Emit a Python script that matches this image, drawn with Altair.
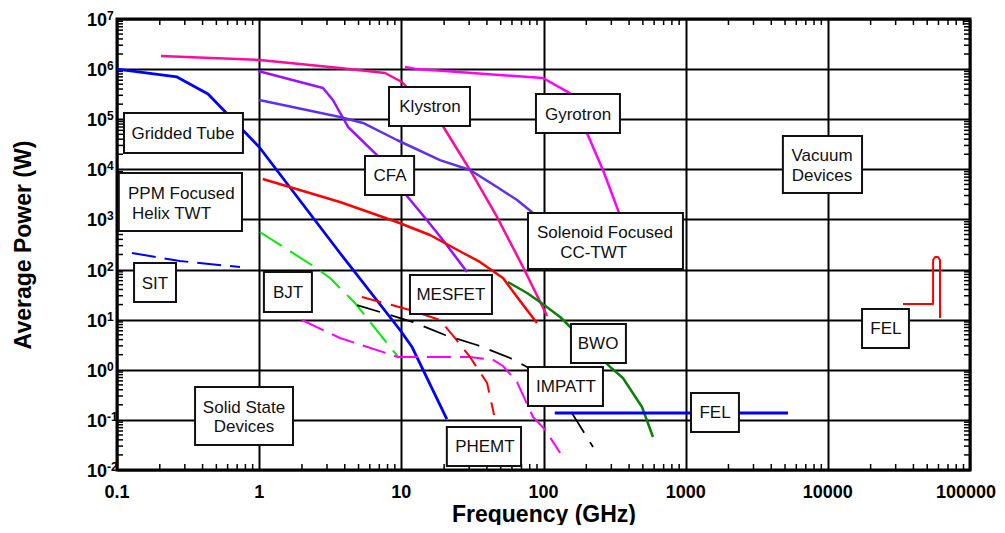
import altair as alt
import pandas as pd

# ---------------- data ----------------
gridded_f = [0.1, 0.264, 0.437, 1.0, 3.70, 9.79, 11.9, 20.9]
gridded_p = [1.0e6, 6.97e5, 3.18e5, 2.79e4, 214, 6.22, 2.84, 0.104]

klystron_f = [0.204, 1.01, 3.70, 7.68, 10.1, 19.6, 30.4, 47.1, 70.6, 106]
klystron_p = [1.83e6, 1.52e6, 1.05e6, 8.36e5, 5.53e5, 7.33e4, 9.70e3, 1.12e3, 123, 11.8]

gyrotron_f = [10.6, 12.9, 99.1, 153, 202, 262, 340]
gyrotron_p = [1.10e6, 1.00e6, 6.65e5, 3.33e5, 5.31e4, 9.7e3, 1.35e3]

cfa_f = [0.982, 2.81, 3.30, 4.22, 6.74, 11.1, 15.1, 19.6, 29.0]
cfa_p = [9.16e5, 4.20e5, 2.42e5, 7.0e4, 1.93e4, 2.81e3, 975, 389, 89.3]

cctwt_f = [1.0, 3.70, 5.37, 9.31, 18.7, 30.4, 47.1, 65.2, 84.4]
cctwt_p = [2.42e5, 1.11e5, 8.41e4, 3.85e4, 1.53e4, 9.70e3, 4.44e3, 2.44e3, 1.35e3]

ppm_f = [1.06, 3.70, 9.31, 15.9, 27.2, 35.7, 51.9, 65.2, 89.9]
ppm_p = [6.41e3, 2.23e3, 889, 489, 214, 142, 67.8, 28.3, 8.57]

bwo_f = [56.2, 76.6, 94.5, 131, 294, 362, 493, 589]
bwo_p = [56.5, 34.0, 22.5, 11.3, 1.14, 0.686, 0.181, 0.0455]

sit_f = [0.1275, 0.277, 0.733]
sit_p = [214, 148, 112]

bjt_f = [1.01, 2.47, 3.15, 4.72, 9.48]
bjt_p = [561, 112, 67.8, 21.5, 1.80]

phemt_f = [2.00, 3.70, 9.48, 30.4, 44.2, 51.9, 65.2, 84.4, 103, 131]
phemt_p = [9.84, 4.31, 1.80, 1.80, 1.57, 1.19, 0.569, 0.114, 0.0628, 0.0218]

mesfet_f = [5.28, 11.5, 18.7, 23.8, 30.4, 40.1, 44.9]
mesfet_p = [28.3, 15.6, 9.84, 4.31, 1.80, 0.544, 0.125]

impatt_f = [4.88, 12.1, 20.3, 34.0, 58.1, 76.6, 149, 223]
impatt_p = [19.6, 8.97, 4.94, 3.12, 1.72, 1.14, 0.181, 0.0288]

fel_low_f = [120, 5250]
fel_low_p = [0.137, 0.137]

fel_high_f = [3.38e4, 5.50e4, 5.50e4, 5.68e4, 5.96e4, 6.15e4, 6.15e4]
fel_high_p = [20.5, 20.5, 155, 178, 178, 155, 10.8]

# label boxes: left/right frequency, top/bottom power
box_f1 = [0.112, 0.103, 0.1318, 1.08, 0.354, 8.19, 88.5, 5.55, 77.8, 11.5, 156, 77.8, 20.9, 4830, 17400, 1090]
box_f2 = [0.769, 0.757, 0.260, 2.35, 1.73, 30.4, 345, 12.3, 957, 43.4, 380, 262, 69.5, 17400, 37200, 2370]
box_p1 = [1.33e5, 8.45e3, 135, 89.3, 0.453, 4.40e5, 3.18e5, 1.85e4, 1.35e3, 77.8, 8.18, 1.135, 0.0721, 4.62e4, 16.3, 0.344]
box_p2 = [2.12e4, 588, 22.5, 14.2, 0.0316, 7.33e4, 5.31e4, 3.08e3, 103, 13.0, 1.36, 0.189, 0.0120, 3.37e3, 2.72, 0.0573]

lbl_text = ["Gridded Tube", "PPM Focused", "Helix TWT", "SIT", "BJT", "Solid State", "Devices",
            "Klystron", "Gyrotron", "CFA", "Solenoid Focused", "CC-TWT", "MESFET", "BWO",
            "IMPATT", "PHEMT", "Vacuum", "Devices", "FEL", "FEL"]
lbl_f = [0.291, 0.1195, 0.1275, 0.185, 1.596, 0.782, 0.782, 15.9, 175, 8.32, 89.9, 131,
         22.3, 242, 144, 38.7, 9100, 9100, 25600, 1610]
lbl_p = [5.31e4, 3.37e3, 1.35e3, 54.0, 35.6, 0.181, 0.0755, 1.84e5, 1.27e5, 7.71e3, 561, 224,
         32.5, 3.42, 0.474, 0.0301, 1.93e4, 7.71e3, 6.82, 0.144]
lbl_align = ["center", "left", "left", "center", "center", "center", "center", "center", "center",
             "center", "left", "left", "center", "center", "center", "center", "center", "center",
             "center", "center"]

x_major = [0.1, 1, 10, 100, 1000, 10000, 100000]
x_major_text = ["0.1", "1", "10", "100", "1000", "10000", "100000"]
y_exp = [-2, -1, 0, 1, 2, 3, 4, 5, 6, 7]
y_major = [0.01, 0.1, 1, 10, 100, 1000, 1e4, 1e5, 1e6, 1e7]
x_minor = [m * d for d in [0.1, 1, 10, 100, 1000, 10000] for m in range(2, 10)]
y_minor = [m * d for d in [0.01, 0.1, 1, 10, 100, 1000, 1e4, 1e5, 1e6] for m in range(2, 10)]

# ---------------- chart ----------------
W, H = 853, 451
FONT = "Liberation Sans"
xs = alt.Scale(type="log", domain=[0.1, 100000], nice=False)
ys = alt.Scale(type="log", domain=[0.01, 1e7], nice=False)

xaxis = alt.Axis(values=x_major, grid=True, gridColor="black", gridWidth=2,
                 gridOpacity=1, ticks=False, tickSize=0, domain=False, labels=False,
                 title="Frequency (GHz)", titleFont=FONT, titleFontSize=23,
                 titleFontWeight="bold", titleColor="black", titleX=W / 2, titleY=44,
                 titleBaseline="middle", titleAlign="center")
yaxis = alt.Axis(values=y_major, grid=True, gridColor="black", gridWidth=2, gridOpacity=1,
                 ticks=False, tickSize=0, domain=False, labels=False,
                 title="Average Power (W)", titleFont=FONT, titleFontSize=23,
                 titleFontWeight="bold", titleColor="black", titleX=-94, titleY=H / 2,
                 titleAngle=270, titleBaseline="middle", titleAlign="center")

X = lambda f: alt.X(f, type="quantitative", scale=xs, axis=xaxis)
Y = lambda f: alt.Y(f, type="quantitative", scale=ys, axis=yaxis)

layers = []

# minor ticks pointing inward on all four sides
xm = pd.DataFrame({"f": x_minor})
ym = pd.DataFrame({"p": y_minor})
tick = dict(color="black", strokeWidth=1.5)
layers.append(alt.Chart(xm).mark_rule(**tick).encode(x=X("f"), y=alt.value(0), y2=alt.value(6)))
layers.append(alt.Chart(xm).mark_rule(**tick).encode(x=X("f"), y=alt.value(H), y2=alt.value(H - 6)))
layers.append(alt.Chart(ym).mark_rule(**tick).encode(y=Y("p"), x=alt.value(0), x2=alt.value(6)))
layers.append(alt.Chart(ym).mark_rule(**tick).encode(y=Y("p"), x=alt.value(W), x2=alt.value(W - 6)))

series = [
    ("Gridded Tube", gridded_f, gridded_p, "#0000FF", 2.8, None),
    ("Klystron", klystron_f, klystron_p, "#FF0A9C", 2.5, None),
    ("Gyrotron", gyrotron_f, gyrotron_p, "#FF00FF", 2.5, None),
    ("CFA", cfa_f, cfa_p, "#9A10FF", 2.5, None),
    ("CC-TWT", cctwt_f, cctwt_p, "#6030F0", 2.5, None),
    ("PPM Helix TWT", ppm_f, ppm_p, "#FF0000", 2.5, None),
    ("BWO", bwo_f, bwo_p, "#0A800A", 2.5, None),
    ("SIT", sit_f, sit_p, "#0000FF", 2, [24, 9]),
    ("BJT", bjt_f, bjt_p, "#00EE00", 2, [26, 10]),
    ("PHEMT", phemt_f, phemt_p, "#FF00FF", 2, [24, 9]),
    ("MESFET", mesfet_f, mesfet_p, "#FF0000", 2, [20, 10]),
    ("IMPATT", impatt_f, impatt_p, "#000000", 1.8, [24, 11]),
    ("FEL low", fel_low_f, fel_low_p, "#0000FF", 3, None),
    ("FEL high", fel_high_f, fel_high_p, "#FF0000", 2, None),
]
for name, fs, ps, col, sw, dash in series:
    df = pd.DataFrame({"f": fs, "p": ps, "i": range(len(fs)), "device": name})
    kw = dict(color=col, strokeWidth=sw, strokeCap="butt", strokeJoin="round")
    if dash:
        kw["strokeDash"] = dash
    layers.append(alt.Chart(df).mark_line(**kw).encode(x=X("f"), y=Y("p"), order="i:Q"))

# label boxes
boxes = pd.DataFrame({"f1": box_f1, "f2": box_f2, "p1": box_p1, "p2": box_p2})
layers.append(alt.Chart(boxes).mark_rect(fill="white", stroke="#111111", strokeWidth=2).encode(
    x=X("f1"), x2="f2", y=Y("p1"), y2="p2"))

labels = pd.DataFrame({"t": lbl_text, "f": lbl_f, "p": lbl_p, "a": lbl_align})
for al in ["center", "left"]:
    sub = labels[labels["a"] == al]
    layers.append(alt.Chart(sub).mark_text(font=FONT, fontSize=17, color="#111111", align=al,
                                          baseline="middle", dy=1).encode(
        x=X("f"), y=Y("p"), text="t:N"))

# y-axis labels as 10 with superscript exponent
yl = pd.DataFrame({"p": y_major, "e": [str(e) for e in y_exp], "b": ["10"] * len(y_exp)})
layers.append(alt.Chart(yl).mark_text(font=FONT, fontSize=18, fontWeight="bold", color="black",
                                      align="right", baseline="middle", dy=2).encode(
    y=Y("p"), x=alt.value(-10), text="b:N"))
layers.append(alt.Chart(yl).mark_text(font=FONT, fontSize=12, fontWeight="bold", color="black",
                                      align="left", baseline="middle", dy=-3).encode(
    y=Y("p"), x=alt.value(-10), text="e:N"))

# x-axis labels (the last one nudged so it stays inside the page)
xl = pd.DataFrame({"f": x_major, "t": x_major_text})
xtxt = dict(font=FONT, fontSize=18, fontWeight="bold", color="black", align="center",
            baseline="middle")
layers.append(alt.Chart(xl.iloc[:-1]).mark_text(**xtxt).encode(
    x=X("f"), y=alt.value(H + 23), text="t:N"))
layers.append(alt.Chart(xl.iloc[-1:]).mark_text(dx=-4, **xtxt).encode(
    x=X("f"), y=alt.value(H + 23), text="t:N"))

chart = alt.layer(*layers).properties(
    width=W, height=H,
    autosize=alt.AutoSizeParams(type="none"),
    padding={"left": 109, "top": 11, "right": 27, "bottom": 55},
    background="white",
).configure_view(stroke="black", strokeWidth=3)

chart.save("out.html", embed_options={"renderer": "svg", "actions": False})
